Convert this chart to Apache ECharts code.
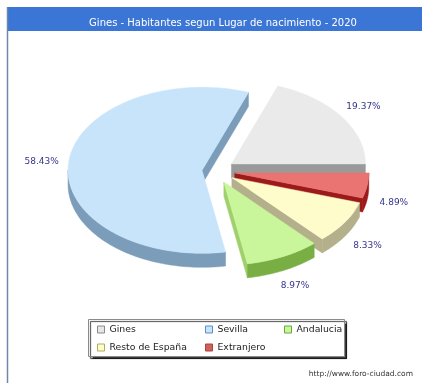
<!DOCTYPE html>
<html>
<head>
<meta charset="utf-8">
<script src="https://cdn.jsdelivr.net/npm/echarts@6/dist/echarts.min.js"></script>
<style>
  html, body { margin: 0; padding: 0; background: #fff; }
  #chart { width: 422px; height: 383px; }
</style>
</head>
<body>
<div id="chart"></div>
<script>
// Population of Gines by place of birth, 2020 (percent of inhabitants)
const categories = ['Gines', 'Sevilla', 'Andalucia', 'Resto de España', 'Extranjero'];
const shares = [19.37, 58.43, 8.97, 8.33, 4.89];
const titleText = 'Gines - Habitantes segun Lugar de nacimiento - 2020';
const sourceText = 'http://www.foro-ciudad.com';

// Colours: top faces, outer walls, radial cut faces and legend swatches
const TOP_COLORS = {
  'Gines': '#eaeaea', 'Sevilla': '#c8e4fb', 'Andalucia': '#c9f69a',
  'Resto de España': '#fffccc', 'Extranjero': '#ea7471'
};
const SIDE_COLORS = {
  'Gines': '#9a9a9a', 'Sevilla': '#7b9db9', 'Andalucia': '#79ae44',
  'Resto de España': '#b4b08b', 'Extranjero': '#9c1a1a'
};
const CUT_COLORS = Object.assign({}, SIDE_COLORS, { 'Andalucia': '#9fd06c' });
const SWATCH = {
  'Gines': ['#e6e6e6', '#8a8a8a'], 'Sevilla': ['#c8e4fb', '#5b8fc4'],
  'Andalucia': ['#c9f69a', '#6aa83a'], 'Resto de España': ['#fffccc', '#b0ad60'],
  'Extranjero': ['#d06060', '#b04040']
};

// Pie geometry (pixels): centre, ellipse radii, wall depth, slice offsets
const CX = 215, CY = 171, RX = 134, RY = 83, DEPTH = 14;
const TILT = RY / RX;
const EXPLODE_DEFAULT = 20;
const EXPLODE = { 'Sevilla': 13 };
const LABEL_RX = 161, LABEL_RY = 100;

const total = shares.reduce((s, v) => s + v, 0);
const before = shares.map((v, i) => shares.slice(0, i).reduce((s, x) => s + x, 0));

// Painter order: slices further back (higher up on screen) are drawn first
const midAngles = shares.map((v, i) => (before[i] + v / 2) / total * 2 * Math.PI);
const rank = [];
shares.map((v, i) => i)
  .sort((a, b) => Math.sin(midAngles[b]) - Math.sin(midAngles[a]))
  .forEach((idx, r) => { rank[idx] = r; });

function renderSlice(params, api) {
  const i = params.seriesIndex;
  const name = categories[i];
  const v = api.value(0);
  const start = api.value(1);
  const a0 = start / total * 2 * Math.PI;
  const a1 = (start + v) / total * 2 * Math.PI;
  const mid = (a0 + a1) / 2;
  const ex = EXPLODE[name] !== undefined ? EXPLODE[name] : EXPLODE_DEFAULT;
  const cx = CX + ex * Math.cos(mid);
  const cy = CY - ex * Math.sin(mid) * TILT;
  const c = [cx, cy];
  const rim = a => [cx + RX * Math.cos(a), cy - RY * Math.sin(a)];
  const down = p => [p[0], p[1] + DEPTH];
  const arc = (s, e) => {
    const n = Math.max(2, Math.ceil((e - s) / 0.02));
    const pts = [];
    for (let k = 0; k <= n; k++) pts.push(rim(s + (e - s) * k / n));
    return pts;
  };
  const base = rank[i] * 10;
  const top = TOP_COLORS[name];
  const children = [];
  const wall = (pts, z, color) => children.push({
    type: 'polygon', z2: base + z,
    shape: { points: pts },
    style: { fill: color, stroke: color, lineWidth: 0.5 }
  });

  // radial cut faces that turn towards the viewer
  if (Math.cos(a0) > 0) wall([c, rim(a0), down(rim(a0)), down(c)], 1, CUT_COLORS[name]);
  if (Math.cos(a1) < 0) wall([c, rim(a1), down(rim(a1)), down(c)], 1, CUT_COLORS[name]);

  // outer wall on the front half of the ellipse
  const w0 = Math.max(a0, Math.PI), w1 = Math.min(a1, 2 * Math.PI);
  if (w1 > w0) {
    const edge = arc(w0, w1);
    wall(edge.concat(edge.slice().reverse().map(down)), 2, SIDE_COLORS[name]);
  }

  // top face
  children.push({
    type: 'polygon', z2: base + 5,
    shape: { points: [c].concat(arc(a0, a1)) },
    style: { fill: top, stroke: top, lineWidth: 0.5 }
  });

  // percentage label
  const s = Math.sin(mid);
  children.push({
    type: 'text', z2: 100,
    style: {
      text: v.toFixed(2) + '%',
      x: cx + LABEL_RX * Math.cos(mid),
      y: cy - LABEL_RY * s + (s < 0 ? DEPTH : 0),
      align: 'center', verticalAlign: 'middle',
      fill: '#34348c', font: '9px "DejaVu Sans"'
    }
  });
  return { type: 'group', children: children };
}

const series = categories.map((name, i) => ({
  type: 'custom',
  name: name,
  coordinateSystem: 'none',
  renderItem: renderSlice,
  data: [[shares[i], before[i]]],
  color: TOP_COLORS[name],
  silent: true,
  animation: false
}));

// Legend laid out as three columns
const legendLeft = [92, 200, 279];
const legends = [0, 1, 2].map(col => ({
  orient: 'vertical',
  left: legendLeft[col],
  top: 320,
  itemWidth: 7,
  itemHeight: 7,
  itemGap: 9,
  selectedMode: false,
  icon: 'rect',
  textStyle: { fontFamily: 'DejaVu Sans', fontSize: 9.3, color: '#222' },
  data: categories.filter((n, i) => i % 3 === col).map(n => ({
    name: n,
    itemStyle: { color: SWATCH[n][0], borderColor: SWATCH[n][1], borderWidth: 1 }
  }))
}));

const chart = echarts.init(document.getElementById('chart'), null, { renderer: 'canvas' });
chart.setOption({
  animation: false,
  backgroundColor: '#fff',
  title: {
    text: titleText,
    left: 218, top: 13,
    textAlign: 'center',
    textStyle: { color: '#fff', fontFamily: 'DejaVu Sans', fontSize: 10, fontWeight: 'normal' }
  },
  legend: legends,
  graphic: [
    { type: 'rect', z: -1, shape: { x: 7, y: 7, width: 415, height: 24 }, style: { fill: '#3b76d6' } },
    { type: 'line', z: -1, shape: { x1: 7.5, y1: 7, x2: 7.5, y2: 383 }, style: { stroke: '#6d88a8', lineWidth: 1.5 } },
    {
      type: 'rect', z: -1,
      shape: { x: 88.5, y: 319.5, width: 256, height: 37 },
      style: {
        fill: '#fff', stroke: '#8a8a8a', lineWidth: 1,
        shadowColor: 'rgba(0,0,0,0.75)', shadowBlur: 1, shadowOffsetX: 2, shadowOffsetY: 2
      }
    },
    {
      type: 'text', right: 9, top: 370,
      style: { text: sourceText, fill: '#333', font: '7.5px "DejaVu Sans"' }
    }
  ],
  series: series
});
</script>
</body>
</html>
